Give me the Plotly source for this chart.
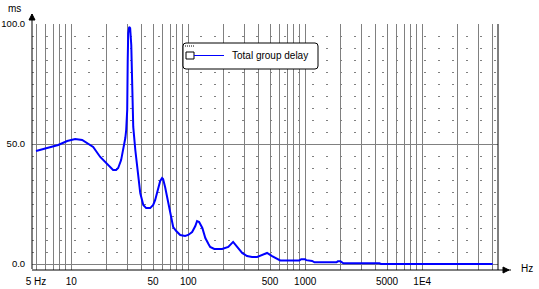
import math
import plotly.graph_objects as go

# ---- data ----
freq_hz = [5.0, 5.76, 6.61, 7.74, 9.24, 10.8, 12.4, 13.7, 15.4, 17.7, 19.9, 21.5, 22.8, 24.2,
           25.2, 26.7, 27.8, 29.0, 29.5, 30.1, 30.4, 30.7, 31.3, 31.9, 32.6, 33.2, 33.9, 35.3,
           36.6, 38.9, 41.3, 43.7, 47.3, 50.2, 52.2, 55.4, 57.6, 59.8, 61.0, 63.5, 67.3, 70.0,
           74.4, 79.0, 85.4, 94.0, 100, 108, 115, 119, 124, 132, 140, 149, 154, 167, 195, 220,
           242, 262, 289, 318, 351, 388, 436, 472, 521, 575, 611, 890, 925, 1000, 1020, 1145,
           1200, 1850, 1900, 2000, 2120, 4300, 4450, 40000]
group_delay_ms = [47.1, 47.9, 48.75, 49.6, 51.25, 52.1, 51.7, 50.4, 48.75, 44.6, 42.1, 40.4, 39.2, 39.2,
                  40.0, 43.3, 47.5, 52.5, 55.8, 64.2, 85.0, 96.25, 98.75, 98.3, 91.25, 72.5, 57.1, 47.5,
                  40.4, 29.6, 24.6, 23.3, 23.3, 24.6, 26.7, 32.0, 34.6, 35.8, 35.4, 32.0, 25.4, 21.25,
                  15.4, 13.75, 12.1, 11.7, 12.1, 13.3, 15.8, 17.9, 17.5, 15.0, 10.8, 8.3, 7.1, 6.25, 6.25, 7.1,
                  9.2, 7.1, 4.6, 3.3, 2.9, 2.9, 3.75, 4.6, 3.3, 2.1, 1.5, 1.5, 2.0, 2.0, 1.6, 1.25,
                  0.7, 0.7, 1.1, 1.1, 0.3, 0.3, 0.0, 0.0]
series_name = "Total group delay"

x_labels = {5: "5 Hz", 10: "10", 50: "50", 100: "100", 500: "500",
            1000: "1000", 5000: "5000", 10000: "1E4"}
y_ticks = [0, 50, 100]
y_labels = ["0.0", "50.0", "100.0"]

# ---- layout geometry (pixels) ----
W, H = 539, 289
L, R, T, B = 32, 498, 24, 270
x_lo = math.log10(5) - 4 / 117
x_hi = x_lo + (R - L) / 117


def px(x):
    return (x - L) / (R - L)


def py(y):
    return (B - y) / (B - T)


grid_vals = []
for d in [1, 10, 100, 1000, 10000]:
    for m in range(1, 10):
        v = m * d
        if 5 <= v <= 40000:
            grid_vals.append(v)
grid_text = [x_labels.get(v, "") for v in grid_vals]

FONT = "Liberation Sans"
GRAY = "#808080"
FS = 10

fig = go.Figure()
fig.add_trace(go.Scatter(x=freq_hz, y=group_delay_ms, mode="lines", name=series_name,
                         line=dict(color="#0000ff", width=2), showlegend=False))

fig.update_layout(
    width=W, height=H,
    margin=dict(l=L, r=W - R, t=T, b=H - B, pad=0, autoexpand=False),
    paper_bgcolor="white", plot_bgcolor="white",
    font=dict(family=FONT, size=FS, color="black"),
    xaxis=dict(type="log", range=[x_lo, x_hi], tickmode="array", tickvals=grid_vals,
               ticktext=grid_text, showgrid=True, gridcolor=GRAY, gridwidth=1, automargin=False,
               ticks="outside", ticklen=2, tickcolor="rgba(0,0,0,0)",
               showline=False, zeroline=False, tickfont=dict(size=FS)),
    yaxis=dict(range=[-2.5, 100], tickmode="array", tickvals=y_ticks, ticktext=y_labels,
               showgrid=True, gridcolor=GRAY, gridwidth=1, ticks="outside", ticklen=4,
               tickcolor="rgba(0,0,0,0)", showline=False, zeroline=False, automargin=False,
               tickfont=dict(size=9.5),
               minor=dict(dtick=5, tick0=0, showgrid=True, gridcolor=GRAY,
                          griddash="2px,12px", gridwidth=1, ticks="")),
)

shapes = []
# y axis line with arrow
shapes.append(dict(type="line", xref="paper", yref="paper", x0=0, x1=0,
                   y0=py(B - 1), y1=py(14), line=dict(color="black", width=1)))
shapes.append(dict(type="path", xref="paper", yref="paper",
                   path=f"M {px(29)} {py(20)} L {px(35)} {py(20)} L {px(32)} {py(14)} Z",
                   fillcolor="black", line=dict(color="black", width=1)))
# right border
shapes.append(dict(type="line", xref="paper", yref="paper", x0=1, x1=1,
                   y0=0, y1=1, line=dict(color="black", width=1)))
# bottom x-axis line with arrow
shapes.append(dict(type="line", xref="paper", yref="paper", x0=0, x1=px(511),
                   y0=0, y1=0, line=dict(color="black", width=1)))
shapes.append(dict(type="path", xref="paper", yref="paper",
                   path=f"M {px(503)} {py(267)} L {px(503)} {py(273)} L {px(509)} {py(270)} Z",
                   fillcolor="black", line=dict(color="black", width=1)))
# legend box (rounded)
x0, x1, y0, y1, r = 183, 318, 43, 69, 3
shapes.append(dict(type="path", xref="paper", yref="paper",
                   path=(f"M {px(x0 + r)} {py(y0)} L {px(x1 - r)} {py(y0)} Q {px(x1)} {py(y0)} {px(x1)} {py(y0 + r)} "
                         f"L {px(x1)} {py(y1 - r)} Q {px(x1)} {py(y1)} {px(x1 - r)} {py(y1)} "
                         f"L {px(x0 + r)} {py(y1)} Q {px(x0)} {py(y1)} {px(x0)} {py(y1 - r)} "
                         f"L {px(x0)} {py(y0 + r)} Q {px(x0)} {py(y0)} {px(x0 + r)} {py(y0)} Z"),
                   fillcolor="white", line=dict(color="black", width=1)))
shapes.append(dict(type="line", xref="paper", yref="paper", x0=px(185), x1=px(194),
                   y0=py(46), y1=py(46), line=dict(color="black", width=1, dash="1px,1px")))
shapes.append(dict(type="rect", xref="paper", yref="paper", x0=px(186), x1=px(194),
                   y0=py(52), y1=py(59), fillcolor="white", line=dict(color="black", width=1)))
shapes.append(dict(type="line", xref="paper", yref="paper", x0=px(194), x1=px(224),
                   y0=py(55.5), y1=py(55.5), line=dict(color="#0000ff", width=1)))
fig.update_layout(shapes=shapes)

annotations = [
    dict(text=series_name, xref="paper", yref="paper", x=px(230), y=py(55.5),
         xanchor="left", yanchor="middle", showarrow=False, font=dict(size=FS)),
    dict(text="ms", xref="paper", yref="paper", x=px(14), y=py(8),
         xanchor="center", yanchor="middle", showarrow=False, font=dict(size=FS)),
    dict(text="Hz", xref="paper", yref="paper", x=px(527), y=py(268),
         xanchor="center", yanchor="middle", showarrow=False, font=dict(size=FS)),
]
fig.update_layout(annotations=annotations)

fig.write_html("out.html")
